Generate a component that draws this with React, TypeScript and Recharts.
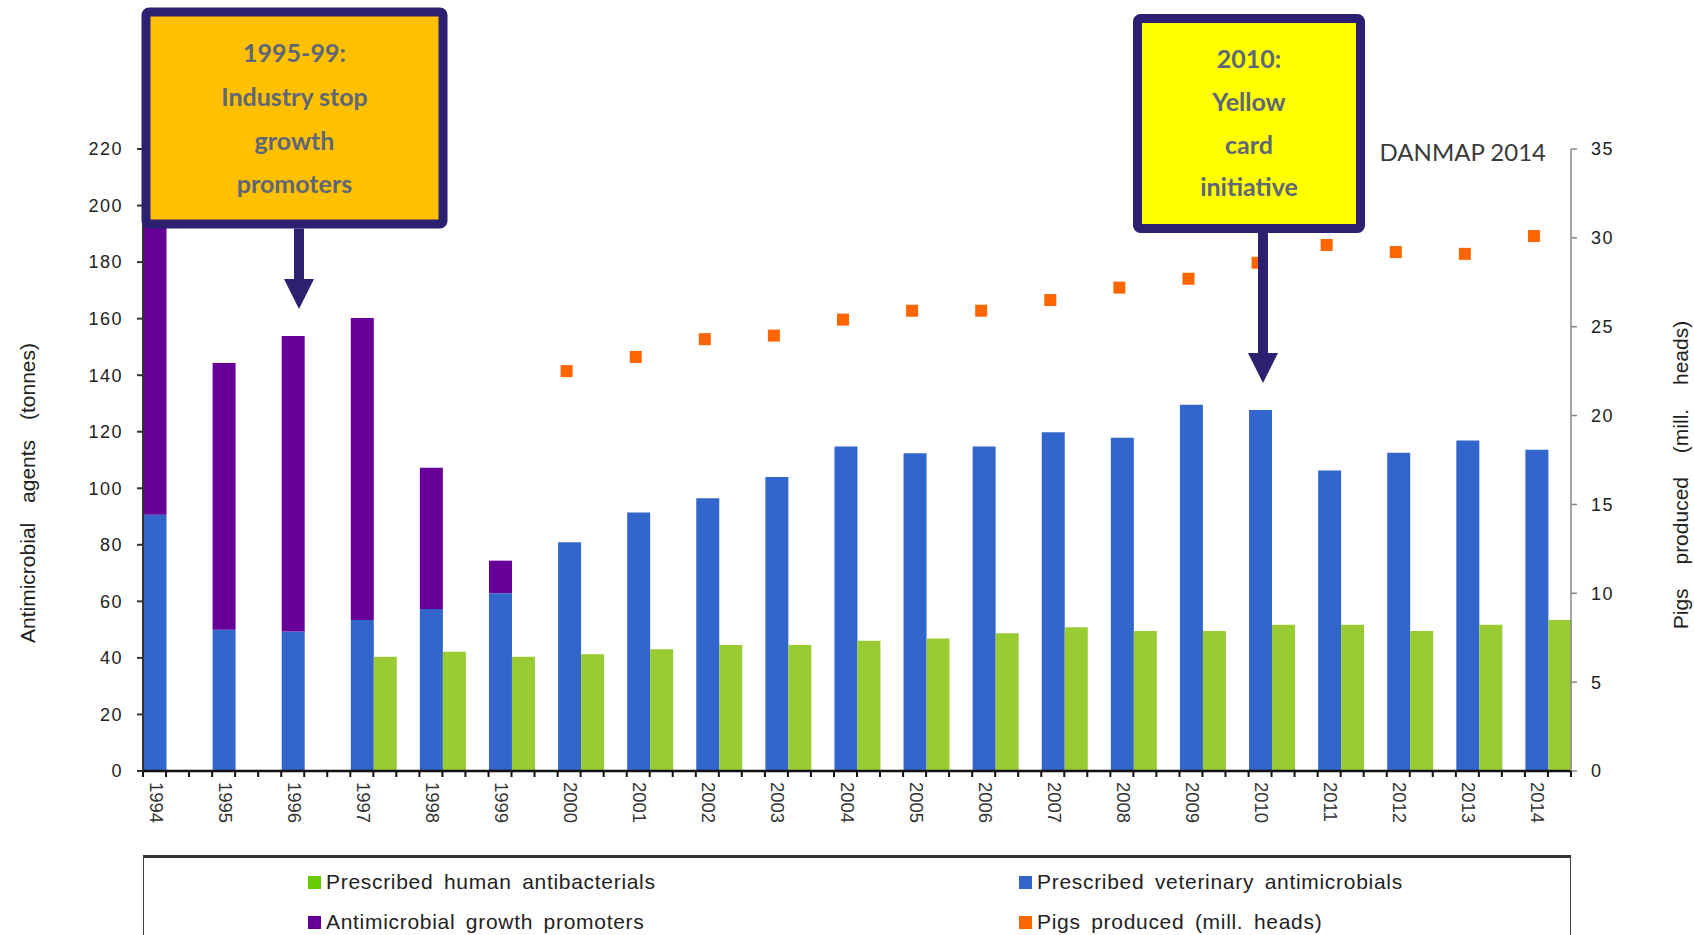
import { ComposedChart, Bar, Line, XAxis, YAxis } from 'recharts';

const years = ['1994', '1995', '1996', '1997', '1998', '1999', '2000', '2001', '2002', '2003', '2004', '2005', '2006', '2007', '2008', '2009', '2010', '2011', '2012', '2013', '2014'];
const vetAntimicrobials = [90.6, 50.0, 49.3, 53.4, 57.3, 62.9, 80.9, 91.4, 96.5, 104.0, 114.8, 112.4, 114.8, 119.8, 117.9, 129.5, 127.7, 106.3, 112.6, 116.9, 113.6];
const growthPromoters = [115, 94.3, 104.6, 106.8, 50.0, 11.5, null, null, null, null, null, null, null, null, null, null, null, null, null, null, null];
const humanAntibacterials = [null, null, null, 40.4, 42.2, 40.4, 41.3, 43.1, 44.6, 44.6, 46.1, 46.9, 48.7, 50.8, 49.5, 49.5, 51.7, 51.7, 49.5, 51.7, 53.4];
const pigsProduced = [null, null, null, null, null, null, 22.5, 23.3, 24.3, 24.5, 25.4, 25.9, 25.9, 26.5, 27.2, 27.7, 28.6, 29.6, 29.2, 29.1, 30.1];
const leftTicks = [0, 20, 40, 60, 80, 100, 120, 140, 160, 180, 200, 220];
const rightTicks = [0, 5, 10, 15, 20, 25, 30, 35];

const data = years.map((year, i) => ({
  year,
  vet: vetAntimicrobials[i],
  promoters: growthPromoters[i],
  human: humanAntibacterials[i],
  pigs: pigsProduced[i],
}));

const BLUE = '#3366CC';
const GREEN = '#99CC33';
const PURPLE = '#660099';
const ORANGE = '#FF6600';
const NAVY = '#2B2170';
const ARIAL = '"Liberation Sans", Arial, sans-serif';
const BOX_FONT = 'Lato, "Open Sans", sans-serif';

function YearTick(props: any) {
  const { x, y, payload } = props;
  const lx = x - 10;
  const ly = y + 11;
  return (
    <g>
      {[-23, 0, 23].map((d) => (
        <line key={d} x1={x + d} x2={x + d} y1={y} y2={y + 6} stroke="#111" strokeWidth={2} />
      ))}
      <text
        x={lx}
        y={ly}
        transform={`rotate(90, ${lx}, ${ly})`}
        textAnchor="start"
        dominantBaseline="central"
        fontSize={18.5}
        fill="#333"
        fontFamily={ARIAL}
      >
        {payload.value}
      </text>
    </g>
  );
}

function PigDot(props: any) {
  const { cx, cy, index, value } = props;
  if (cx == null || cy == null || value == null) return <g key={index} />;
  return <rect key={index} x={cx - 20} y={cy - 6} width={12} height={12} fill={ORANGE} />;
}

function Callout({ x, y, w, h, fill, lines, lineY, arrowX, arrowTip }: any) {
  const cx = x + w / 2;
  return (
    <g>
      <rect x={arrowX - 5} y={y + h} width={10} height={arrowTip - 30 - (y + h) + 2} fill={NAVY} />
      <polygon points={`${arrowX - 15},${arrowTip - 30} ${arrowX + 15},${arrowTip - 30} ${arrowX},${arrowTip}`} fill={NAVY} />
      <rect x={x + 4.5} y={y + 4.5} width={w - 9} height={h - 9} rx={3} fill={fill} stroke={NAVY} strokeWidth={9} />
      {lines.map((t: string, i: number) => (
        <text
          key={t}
          x={cx}
          y={lineY[i]}
          textAnchor="middle"
          dominantBaseline="central"
          fontSize={25}
          fontWeight={700}
          fill="#5E6677"
          fontFamily={BOX_FONT}
        >
          {t}
        </text>
      ))}
    </g>
  );
}

const legendItems = [
  { label: 'Prescribed human antibacterials', color: '#66CC00', left: 164, top: 24 },
  { label: 'Prescribed veterinary antimicrobials', color: BLUE, left: 875, top: 24 },
  { label: 'Antimicrobial growth promoters', color: PURPLE, left: 164, top: 64 },
  { label: 'Pigs produced (mill. heads)', color: ORANGE, left: 875, top: 64 },
];

export default function App() {
  return (
    <div style={{ position: 'absolute', left: 0, top: 0, width: 1694, height: 935, overflow: 'hidden', background: '#fff' }}>
      <ComposedChart width={1694} height={935} data={data} margin={{ top: 149, right: 0, bottom: 0, left: 0 }} barGap={0}>
        <XAxis
          dataKey="year"
          interval={0}
          height={164}
          padding={{ left: -11.5, right: -11.5 }}
          tickLine={false}
          tickSize={0}
          tickMargin={0}
          axisLine={{ stroke: '#111', strokeWidth: 2.5 }}
          tick={(p: any) => <YearTick {...p} />}
        />
        <YAxis
          yAxisId="left"
          orientation="left"
          width={143}
          domain={[0, 220]}
          ticks={leftTicks}
          interval={0}
          tickSize={6}
          tickMargin={14}
          axisLine={{ stroke: '#333', strokeWidth: 2 }}
          tickLine={{ stroke: '#333', strokeWidth: 2 }}
          tick={{ fontSize: 18, fill: '#222', fontFamily: ARIAL, letterSpacing: 1.5 }}
          label={() => (
            <text
              x={27}
              y={493}
              transform="rotate(-90, 27, 493)"
              textAnchor="middle"
              dominantBaseline="central"
              fontSize={21}
              fill="#222"
              fontFamily={ARIAL}
              wordSpacing={14}
            >
              Antimicrobial agents (tonnes)
            </text>
          )}
        />
        <YAxis
          yAxisId="right"
          orientation="right"
          width={123}
          domain={[0, 35]}
          ticks={rightTicks}
          interval={0}
          tickSize={6}
          tickMargin={14}
          axisLine={{ stroke: '#888', strokeWidth: 1.5 }}
          tickLine={{ stroke: '#888', strokeWidth: 1.5 }}
          tick={{ fontSize: 18, fill: '#222', fontFamily: ARIAL, letterSpacing: 1.5 }}
          label={() => (
            <text
              x={1680}
              y={475}
              transform="rotate(-90, 1680, 475)"
              textAnchor="middle"
              dominantBaseline="central"
              fontSize={21}
              fill="#222"
              fontFamily={ARIAL}
              wordSpacing={18}
            >
              Pigs produced (mill. heads)
            </text>
          )}
        />
        <Bar yAxisId="left" dataKey="vet" stackId="a" fill={BLUE} barSize={23} isAnimationActive={false} />
        <Bar yAxisId="left" dataKey="promoters" stackId="a" fill={PURPLE} barSize={23} isAnimationActive={false} />
        <Bar yAxisId="left" dataKey="human" fill={GREEN} barSize={23} isAnimationActive={false} />
        <Line
          yAxisId="right"
          dataKey="pigs"
          stroke="none"
          dot={(p: any) => <PigDot {...p} />}
          activeDot={false}
          isAnimationActive={false}
        />
      </ComposedChart>

      <svg width={1694} height={935} style={{ position: 'absolute', left: 0, top: 0, pointerEvents: 'none' }}>
        <text x={1546} y={151} textAnchor="end" dominantBaseline="central" fontSize={24} fill="#3A3A3A" fontFamily={BOX_FONT}>
          DANMAP 2014
        </text>
        <Callout
          x={141.5}
          y={7.5}
          w={306}
          h={221}
          fill="#FFC000"
          lines={['1995-99:', 'Industry stop', 'growth', 'promoters']}
          lineY={[52, 96, 140, 183]}
          arrowX={299}
          arrowTip={309}
        />
        <Callout
          x={1133}
          y={14}
          w={232}
          h={219}
          fill="#FFFF00"
          lines={['2010:', 'Yellow', 'card', 'initiative']}
          lineY={[58, 101, 144, 186]}
          arrowX={1263}
          arrowTip={383}
        />
      </svg>

      <div
        style={{
          position: 'absolute',
          left: 143,
          top: 855,
          width: 1428,
          height: 100,
          boxSizing: 'border-box',
          borderTop: '3px solid #333',
          borderLeft: '1.5px solid #444',
          borderRight: '1.5px solid #444',
          fontFamily: ARIAL,
          fontSize: 21,
          color: '#222',
        }}
      >
        {legendItems.map((it) => (
          <div
            key={it.label}
            style={{ position: 'absolute', left: it.left, top: it.top - 12, height: 24, display: 'flex', alignItems: 'center', whiteSpace: 'nowrap', wordSpacing: 4, letterSpacing: 0.7 }}
          >
            <span style={{ display: 'inline-block', width: 13, height: 13, background: it.color, marginRight: 5 }} />
            {it.label}
          </div>
        ))}
      </div>
    </div>
  );
}
